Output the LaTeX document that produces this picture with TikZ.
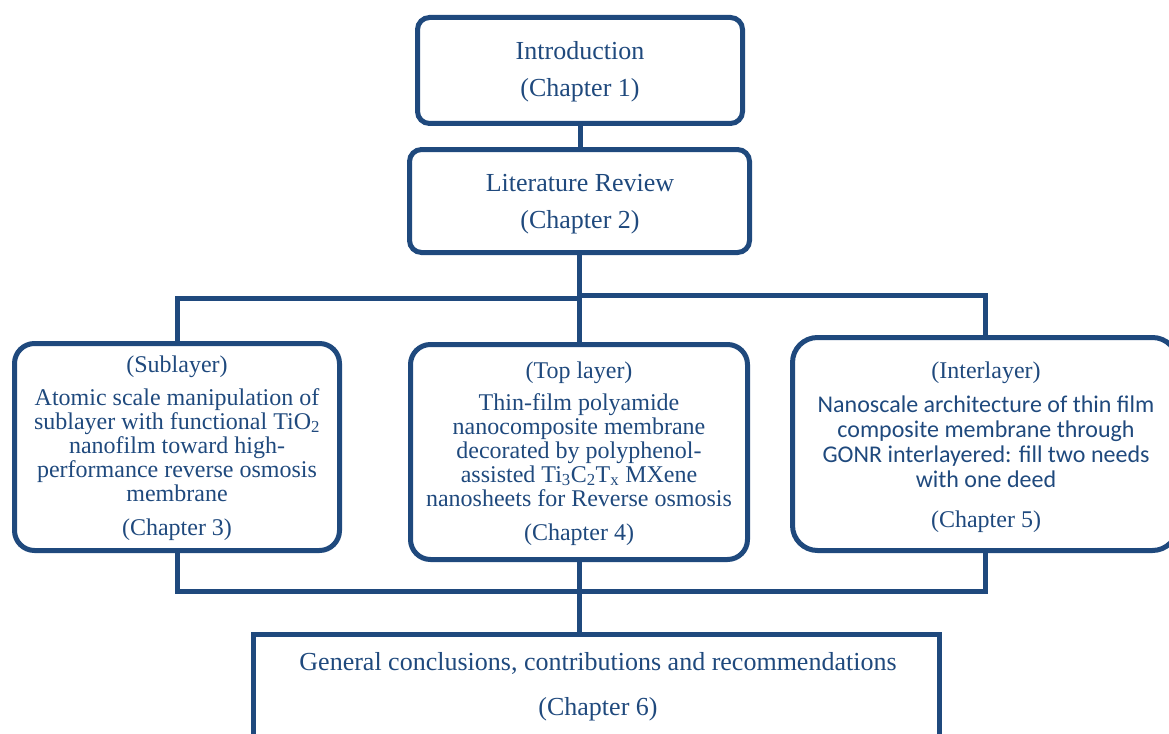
\documentclass[tikz,border=0pt]{standalone}
\usepackage{fontspec}
\setmainfont{Liberation Serif}
\newfontfamily\calib{Carlito}
\definecolor{txtblue}{HTML}{1F497D}
\begin{document}
\begin{tikzpicture}[x=1pt,y=-1pt,
  box/.style={draw=txtblue, line width=5pt, inner sep=0pt},
  rbox/.style={box, rounded corners=#1},
  conn/.style={draw=txtblue, line width=5pt},
  ln/.style={anchor=base, inner sep=0pt, text=txtblue, font=\fontsize{24}{24}\selectfont},
  big/.style={ln, font=\fontsize{26}{26}\selectfont},
  sans/.style={ln, font=\calib\fontsize{24}{25}\selectfont}]
\useasboundingbox (0,0) rectangle (1169,733);
\clip (0,0) rectangle (1169,733);

% boxes
\node[rbox=12pt, minimum width=325pt, minimum height=106pt] (intro) at (580,70.5) {};
\node[rbox=12pt, minimum width=340pt, minimum height=103pt] (lit) at (579.5,201) {};
\node[rbox=20pt, minimum width=325pt, minimum height=207pt] (sub) at (177,447) {};
\node[rbox=20pt, minimum width=337pt, minimum height=215pt] (top) at (579,452) {};
\node[rbox=25pt, minimum width=385pt, minimum height=213pt] (inter) at (985,444) {};
\node[box, minimum width=686pt, minimum height=200pt] (concl) at (596.5,734.5) {};

% connector coordinates
\coordinate (busL) at (579,298);
\coordinate (busR) at (579,295);
\coordinate (busB) at (579,591);

% connectors
\draw[conn] (intro.south) -- (intro.south |- lit.north);
\draw[conn] (lit.south) -- (lit.south |- top.north);
\draw[conn] (sub.north) |- (busL);
\draw[conn] (inter.north) |- (busR);
\draw[conn] (sub.south) |- (busB) -| (inter.south);
\draw[conn] (top.south) -- (top.south |- concl.north);

% texts
\node[big] (t1a) at (580,60) {Introduction};
\node[big] (t1b) at (580,97) {(Chapter 1)};
\node[big] (t2a) at (580,191) {Literature Review};
\node[big] (t2b) at (580,228) {(Chapter 2)};

\node[ln] (t3a) at (177,372) {(Sublayer)};
\node[ln] (t3b) at (177,405) {Atomic scale manipulation of};
\node[ln] (t3c) at (177,429) {sublayer with functional TiO\textsubscript{2}};
\node[ln] (t3d) at (177,453) {nanofilm toward high-};
\node[ln] (t3e) at (177,477) {performance reverse osmosis};
\node[ln] (t3f) at (177,501) {membrane};
\node[ln] (t3g) at (177,535) {(Chapter 3)};

\node[ln] (t4a) at (579,378) {(Top layer)};
\node[ln] (t4b) at (579,410) {Thin-film polyamide};
\node[ln] (t4c) at (579,434) {nanocomposite membrane};
\node[ln] (t4d) at (579,458) {decorated by polyphenol-};
\node[ln] (t4e) at (579,482) {assisted Ti\textsubscript{3}C\textsubscript{2}T\textsubscript{x} MXene};
\node[ln] (t4f) at (579,506) {nanosheets for Reverse osmosis};
\node[ln] (t4g) at (579,540) {(Chapter 4)};

\node[ln] (t5a) at (986,378) {(Interlayer)};
\node[sans] (t5b) at (986,412) {Nanoscale architecture of thin film};
\node[sans] (t5c) at (986,437) {composite membrane through};
\node[sans] (t5d) at (986,462) {GONR interlayered: fill two needs};
\node[sans] (t5e) at (986,487) {with one deed};
\node[ln] (t5f) at (986,527) {(Chapter 5)};

\node[big] (t6a) at (598,670) {General conclusions, contributions and recommendations};
\node[big] (t6b) at (598,715) {(Chapter 6)};
\end{tikzpicture}
\end{document}
